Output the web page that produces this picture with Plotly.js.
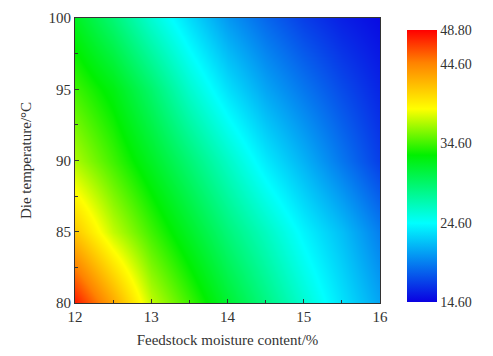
<!DOCTYPE html>
<html>
<head>
<meta charset="utf-8">
<script src="https://cdn.plot.ly/plotly-3.0.1.min.js"></script>
<style>body{margin:0;background:#fff}#chart{width:493px;height:356px}</style>
</head>
<body>
<div id="chart"></div>
<script>
// Feedstock moisture content (%)
var moisture = [12, 12.5, 13, 13.5, 14, 14.5, 15, 15.5, 16];
// Die temperature (°C)
var temperature = [80, 85, 90, 95, 100];
// Response values, one row per temperature
var row80  = [48.0, 43.0, 37.5, 34.5, 31.4, 28.7, 26.0, 23.4, 21.0];
var row85  = [41.5, 37.5, 34.5, 31.8, 29.0, 26.6, 24.1, 22.0, 19.5];
var row90  = [37.0, 34.5, 31.9, 29.2, 26.4, 23.7, 21.5, 19.2, 17.0];
var row95  = [34.5, 32.5, 29.5, 26.2, 23.3, 21.0, 19.2, 17.5, 16.0];
var row100 = [32.0, 29.2, 26.0, 23.2, 20.5, 18.6, 17.0, 15.8, 15.0];
var zValues = [row80, row85, row90, row95, row100];
var cbTicks = [14.6, 24.6, 34.6, 44.6, 48.8];
var cbTickText = ['14.60', '24.60', '34.60', '44.60', '48.80'];

var font = 'Liberation Serif, Times New Roman, serif';
var trace = {
  type: 'heatmap',
  x: moisture,
  y: temperature,
  z: zValues,
  zsmooth: 'best',
  zmin: 14.6,
  zmax: 48.8,
  colorscale: [
    [0, 'rgb(10,0,225)'],
    [0.29, 'rgb(0,255,255)'],
    [0.54, 'rgb(0,240,0)'],
    [0.71, 'rgb(255,255,0)'],
    [0.88, 'rgb(255,130,0)'],
    [1, 'rgb(255,0,0)']
  ],
  colorbar: {
    x: 1.089, xanchor: 'left', xref: 'paper',
    y: 0.48, yanchor: 'middle',
    len: 0.954, lenmode: 'fraction',
    thickness: 30, thicknessmode: 'pixels',
    xpad: 0, ypad: 0,
    outlinewidth: 0,
    ticks: '',
    tickvals: cbTicks,
    ticktext: cbTickText,
    tickfont: {family: font, size: 14, color: '#333'},
    ticklabelpad: 6
  },
  hoverinfo: 'skip'
};

var layout = {
  width: 493, height: 356,
  margin: {l: 75, r: 113, t: 18, b: 53, autoexpand: false},
  paper_bgcolor: '#fff',
  plot_bgcolor: '#fff',
  font: {family: font, color: '#333'},
  xaxis: {
    range: [12, 16],
    tickvals: [12, 13, 14, 15, 16],
    ticks: 'inside', ticklen: 4, tickcolor: '#333',
    minor: {dtick: 0.5, tick0: 12, ticks: 'inside', ticklen: 3, tickcolor: '#333'},
    showline: true, linecolor: '#333', linewidth: 1, mirror: true,
    showgrid: false, zeroline: false,
    tickfont: {family: font, size: 15, color: '#333'},
    title: {text: 'Feedstock moisture content/%', font: {family: font, size: 15, color: '#333'}, standoff: 10}
  },
  yaxis: {
    range: [80, 100],
    tickvals: [80, 85, 90, 95, 100],
    ticks: 'inside', ticklen: 4, tickcolor: '#333',
    minor: {dtick: 2.5, tick0: 80, ticks: 'inside', ticklen: 3, tickcolor: '#333'},
    showline: true, linecolor: '#333', linewidth: 1, mirror: true,
    showgrid: false, zeroline: false,
    tickfont: {family: font, size: 15, color: '#333'},
    title: {text: 'Die temperature/°C', font: {family: font, size: 15, color: '#333'}, standoff: 13}
  }
};

Plotly.newPlot('chart', [trace], layout, {displayModeBar: false, staticPlot: true});
</script>
</body>
</html>
